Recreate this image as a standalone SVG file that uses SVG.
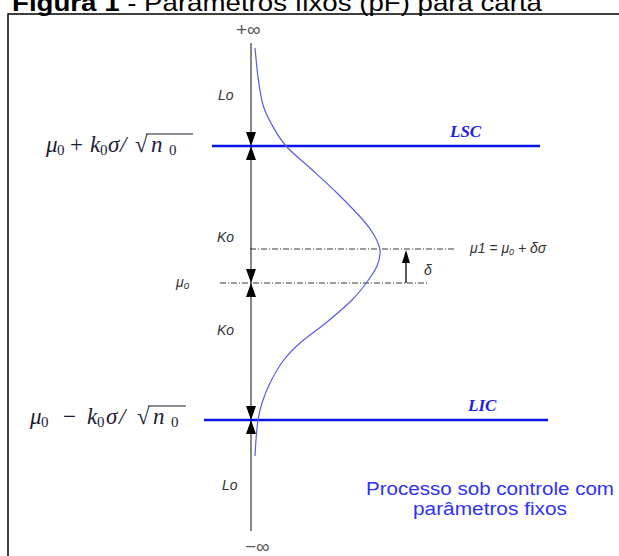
<svg xmlns="http://www.w3.org/2000/svg" width="619" height="556" viewBox="0 0 619 556">
<style>
.frame{stroke:#000;stroke-width:1.5;fill:none}
.axis{stroke:#555;stroke-width:1.4;fill:none}
.lim{stroke:#0a14e6;stroke-width:2.5;fill:none}
.dash{stroke:#222;stroke-width:0.9;fill:none;stroke-dasharray:6 2 1 2}
.curve{stroke:#5a5af0;stroke-width:1.2;fill:none}
.ah{fill:#000}
.lbl{font-family:"Liberation Sans",Arial,sans-serif;font-style:italic;font-size:14px;fill:#333}
.math{font-family:"Liberation Serif","DejaVu Serif",serif;font-size:23px;fill:#1c1c3a}
.mi{font-style:italic}
.sub{font-size:15px}
.limlbl{font-family:"Liberation Serif","Times New Roman",serif;font-style:italic;font-weight:bold;font-size:17px;fill:#2020e8}
.inf{font-family:"Liberation Sans",Arial,sans-serif;font-size:19px;fill:#555}
.note{font-family:"Liberation Sans",Arial,sans-serif;font-size:18px;fill:#3030ff}
.title{font-family:"Liberation Sans",Arial,sans-serif;font-size:24px;fill:#000}
</style>
<rect width="619" height="556" fill="#fff"/>
<g id="title">
<text class="title" x="12" y="11" textLength="530" lengthAdjust="spacingAndGlyphs"><tspan font-weight="bold">Figura 1</tspan><tspan> - Parâmetros fixos (pF) para carta</tspan></text>
</g>
<g id="frame">
<path class="frame" d="M8 556 V14 H619"/>
</g>
<g id="connectors">
<line class="axis" x1="251" y1="43" x2="251" y2="531"/>
<line class="lim" x1="212" y1="146" x2="540" y2="146"/>
<line class="lim" x1="204" y1="420" x2="548" y2="420"/>
<line class="dash" x1="250" y1="249" x2="455" y2="249"/>
<line class="dash" x1="220" y1="283" x2="428" y2="283"/>
<line stroke="#000" stroke-width="1.3" x1="406" y1="283" x2="406" y2="260"/>
<polygon class="ah" points="406,250 402,263 410,263"/>
<polygon class="ah" points="251,146 246,132 256,132"/>
<polygon class="ah" points="251,146 246,160 256,160"/>
<polygon class="ah" points="251,283 246,269 256,269"/>
<polygon class="ah" points="251,283 246,297 256,297"/>
<polygon class="ah" points="251,420 246,406 256,406"/>
<polygon class="ah" points="251,420 246,434 256,434"/>
<path class="curve" d="M255,48 C255.5,52.8 256.7,67.5 258,77 C259.3,86.5 260.7,97 263,105 C265.3,113 268.2,118.2 272,125 C275.8,131.8 279.7,138.8 286,146 C292.3,153.2 301.5,160.2 310,168 C318.5,175.8 328.2,184.3 337,193 C345.8,201.7 356.8,213 363,220 C369.2,227 371.2,230 374,235 C376.8,240 379.5,244.8 380,250 C380.5,255.2 379.2,260.7 377,266 C374.8,271.3 371.2,276.3 367,282 C362.8,287.7 358.7,293.3 352,300 C345.3,306.7 335.7,314.8 327,322 C318.3,329.2 307.3,336.5 300,343 C292.7,349.5 288,354.3 283,361 C278,367.7 273.5,376 270,383 C266.5,390 264,396.8 262,403 C260,409.2 259,413.8 258,420 C257,426.2 256.5,434 256,440 C255.5,446 255.2,453.3 255,456"/>
</g>
<g id="infinity">
<text class="inf" x="236" y="36">+∞</text>
<text class="inf" x="245" y="553">−∞</text>
</g>
<g id="LSC">
<text class="limlbl" x="450" y="137">LSC</text>
</g>
<g id="LIC">
<text class="limlbl" x="468" y="411">LIC</text>
</g>
<g id="upper-formula">
<text class="math" y="152"><tspan class="mi" x="46">μ</tspan><tspan class="sub" x="57" dy="3">0</tspan><tspan x="70" dy="-3">+</tspan><tspan class="mi" x="90">k</tspan><tspan class="sub" x="100" dy="3">0</tspan><tspan class="mi" x="108" dy="-3">σ</tspan><tspan class="mi" x="120">/</tspan><tspan x="135">√</tspan><tspan class="mi" x="151">n</tspan><tspan class="sub" x="169" dy="3">0</tspan></text>
<line x1="146" y1="134" x2="193" y2="134" stroke="#1c1c3a" stroke-width="1.2"/>
</g>
<g id="lower-formula">
<text class="math" y="424"><tspan class="mi" x="30">μ</tspan><tspan class="sub" x="41" dy="3">0</tspan><tspan x="63" dy="-3">−</tspan><tspan class="mi" x="87">k</tspan><tspan class="sub" x="97" dy="3">0</tspan><tspan class="mi" x="106" dy="-3">σ</tspan><tspan class="mi" x="119">/</tspan><tspan x="137">√</tspan><tspan class="mi" x="153">n</tspan><tspan class="sub" x="171" dy="3">0</tspan></text>
<line x1="148" y1="406" x2="186" y2="406" stroke="#1c1c3a" stroke-width="1.2"/>
</g>
<g id="labels">
<text class="lbl" x="218" y="100">Lo</text>
<text class="lbl" x="217" y="242">Ko</text>
<text class="lbl" x="217" y="335">Ko</text>
<text class="lbl" x="222" y="490">Lo</text>
<text class="lbl" x="176" y="287">μ<tspan font-size="10" dy="2">o</tspan></text>
<text class="lbl" x="424" y="275" font-size="15">δ</text>
<text class="lbl" x="470" y="253">μ1 = μ<tspan font-size="9" dy="2">0</tspan><tspan dy="-2"> + δσ</tspan></text>
</g>
<g id="note">
<text class="note" x="490" y="495" text-anchor="middle" textLength="248" lengthAdjust="spacingAndGlyphs">Processo sob controle com</text>
<text class="note" x="490" y="515" text-anchor="middle" textLength="154" lengthAdjust="spacingAndGlyphs">parâmetros fixos</text>
</g>
</svg>
